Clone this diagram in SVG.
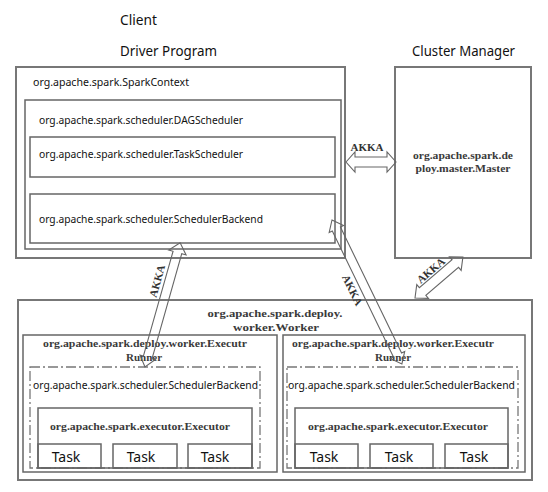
<svg xmlns="http://www.w3.org/2000/svg" width="548" height="492" viewBox="0 0 548 492">
<defs>
<style>
.bx{fill:none;stroke:#666;stroke-width:1.5}
.bo{fill:none;stroke:#777;stroke-width:2}
.dd{fill:none;stroke:#777;stroke-width:1.3;stroke-dasharray:10 3 2 3}
.ar{fill:none;stroke:#666;stroke-width:1.1;stroke-linejoin:miter}
.sans{font-family:"Noto Sans","Open Sans","DejaVu Sans",sans-serif;fill:#111}
.ser{font-family:"Liberation Serif","Times New Roman",serif;font-weight:bold;fill:#3a3a3a;font-size:11px}
.h{font-size:13.5px}
.s{font-size:11px}
.t{font-size:14px}
.ak{font-family:"Liberation Serif","Times New Roman",serif;font-weight:bold;fill:#333;font-size:11px}
</style>
</defs>
<rect width="548" height="492" fill="#fff"/>

<text class="sans h" x="120" y="25" textLength="37" lengthAdjust="spacingAndGlyphs">Client</text>
<text class="sans h" x="120" y="56" textLength="97" lengthAdjust="spacingAndGlyphs">Driver Program</text>
<text class="sans h" x="412" y="56" textLength="103" lengthAdjust="spacingAndGlyphs">Cluster Manager</text>

<g id="driver">
<rect class="bo" x="16" y="67" width="329" height="191"/>
<text class="sans s" x="33" y="86" textLength="156" lengthAdjust="spacingAndGlyphs">org.apache.spark.SparkContext</text>
</g>
<g id="dagscheduler">
<rect class="bx" x="25" y="100" width="316" height="149"/>
<text class="sans s" x="39" y="124" textLength="204" lengthAdjust="spacingAndGlyphs">org.apache.spark.scheduler.DAGScheduler</text>
</g>
<g id="taskscheduler">
<rect class="bx" x="30" y="137" width="305" height="40"/>
<text class="sans s" x="39" y="158" textLength="204" lengthAdjust="spacingAndGlyphs">org.apache.spark.scheduler.TaskScheduler</text>
</g>
<g id="schedulerbackend">
<rect class="bx" x="30" y="194" width="305" height="49"/>
<text class="sans s" x="39" y="223" textLength="224" lengthAdjust="spacingAndGlyphs">org.apache.spark.scheduler.SchedulerBackend</text>
</g>

<g id="master">
<rect class="bo" x="395" y="67" width="136" height="191"/>
<text class="ser" x="463" y="159" text-anchor="middle" textLength="100" lengthAdjust="spacingAndGlyphs">org.apache.spark.de</text>
<text class="ser" x="463" y="172" text-anchor="middle" textLength="95" lengthAdjust="spacingAndGlyphs">ploy.master.Master</text>
</g>

<g id="worker">
<rect class="bo" x="18" y="300" width="514" height="180"/>
<text class="ser" x="275" y="317" text-anchor="middle" textLength="135" lengthAdjust="spacingAndGlyphs">org.apache.spark.deploy.</text>
<text class="ser" x="276" y="331" text-anchor="middle" textLength="86" lengthAdjust="spacingAndGlyphs">worker.Worker</text>
</g>

<g id="runner-left">
<rect class="bx" x="23" y="335" width="254" height="137"/>
<text class="ser" x="145" y="347" text-anchor="middle" textLength="204" lengthAdjust="spacingAndGlyphs">org.apache.spark.deploy.worker.Executr</text>
<text class="ser" x="144" y="361" text-anchor="middle">Runner</text>
</g>
<g id="backend-left">
<rect class="dd" x="30" y="367" width="230" height="101"/>
<text class="sans s" x="33" y="389" textLength="225" lengthAdjust="spacingAndGlyphs">org.apache.spark.scheduler.SchedulerBackend</text>
</g>
<g id="executor-left">
<rect class="bx" x="38" y="408" width="214" height="60"/>
<text class="ser" x="140" y="430" text-anchor="middle" textLength="180" lengthAdjust="spacingAndGlyphs">org.apache.spark.executor.Executor</text>
</g>
<g id="task-l1"><rect class="bx" x="38" y="444" width="63" height="24"/><text class="sans t" x="66" y="462" text-anchor="middle">Task</text></g>
<g id="task-l2"><rect class="bx" x="113" y="444" width="64" height="24"/><text class="sans t" x="141" y="462" text-anchor="middle">Task</text></g>
<g id="task-l3"><rect class="bx" x="188" y="444" width="64" height="24"/><text class="sans t" x="215" y="462" text-anchor="middle">Task</text></g>

<g id="runner-right">
<rect class="bx" x="283" y="335" width="242" height="137"/>
<text class="ser" x="393" y="347" text-anchor="middle" textLength="202" lengthAdjust="spacingAndGlyphs">org.apache.spark.deploy.worker.Executr</text>
<text class="ser" x="393" y="361" text-anchor="middle">Runner</text>
</g>
<g id="backend-right">
<rect class="dd" x="287" y="367" width="231" height="101"/>
<text class="sans s" x="288" y="389" textLength="227" lengthAdjust="spacingAndGlyphs">org.apache.spark.scheduler.SchedulerBackend</text>
</g>
<g id="executor-right">
<rect class="bx" x="295" y="408" width="213" height="60"/>
<text class="ser" x="398" y="430" text-anchor="middle" textLength="180" lengthAdjust="spacingAndGlyphs">org.apache.spark.executor.Executor</text>
</g>
<g id="task-r1"><rect class="bx" x="295" y="444" width="63" height="24"/><text class="sans t" x="324" y="462" text-anchor="middle">Task</text></g>
<g id="task-r2"><rect class="bx" x="370" y="444" width="63" height="24"/><text class="sans t" x="399" y="462" text-anchor="middle">Task</text></g>
<g id="task-r3"><rect class="bx" x="445" y="444" width="63" height="24"/><text class="sans t" x="474" y="462" text-anchor="middle">Task</text></g>

<g id="connectors">
<polygon class="ar" points="346,162 355,152 355,157 387,157 387,152 396,162 387,172 387,167 355,167 355,172"/>
<text class="ak" x="367" y="151" text-anchor="middle">AKKA</text>
<g transform="translate(145,367) rotate(-74.2)">
<polygon class="ar" points="0,0 10,-8 10,-4.5 119,-4.5 119,-9 129,0 119,9 119,4.5 10,4.5 10,8"/>
<text class="ak" x="86" y="-8" text-anchor="middle">AKKA</text>
</g>
<g transform="translate(332,220) rotate(64.1)">
<polygon class="ar" points="0,0 10,-8 10,-4.5 150,-4.5 150,-8 160,0 150,8 150,4.5 10,4.5 10,8"/>
<text class="ak" x="72" y="16" text-anchor="middle">AKKA</text>
</g>
<g transform="translate(415,298) rotate(-40.5)">
<polygon class="ar" points="0,0 10,-9 10,-5 53,-5 53,-9 63,0 53,9 53,5 10,5 10,9"/>
<text class="ak" x="30" y="-7" text-anchor="middle">AKKA</text>
</g>
</g>
</svg>
